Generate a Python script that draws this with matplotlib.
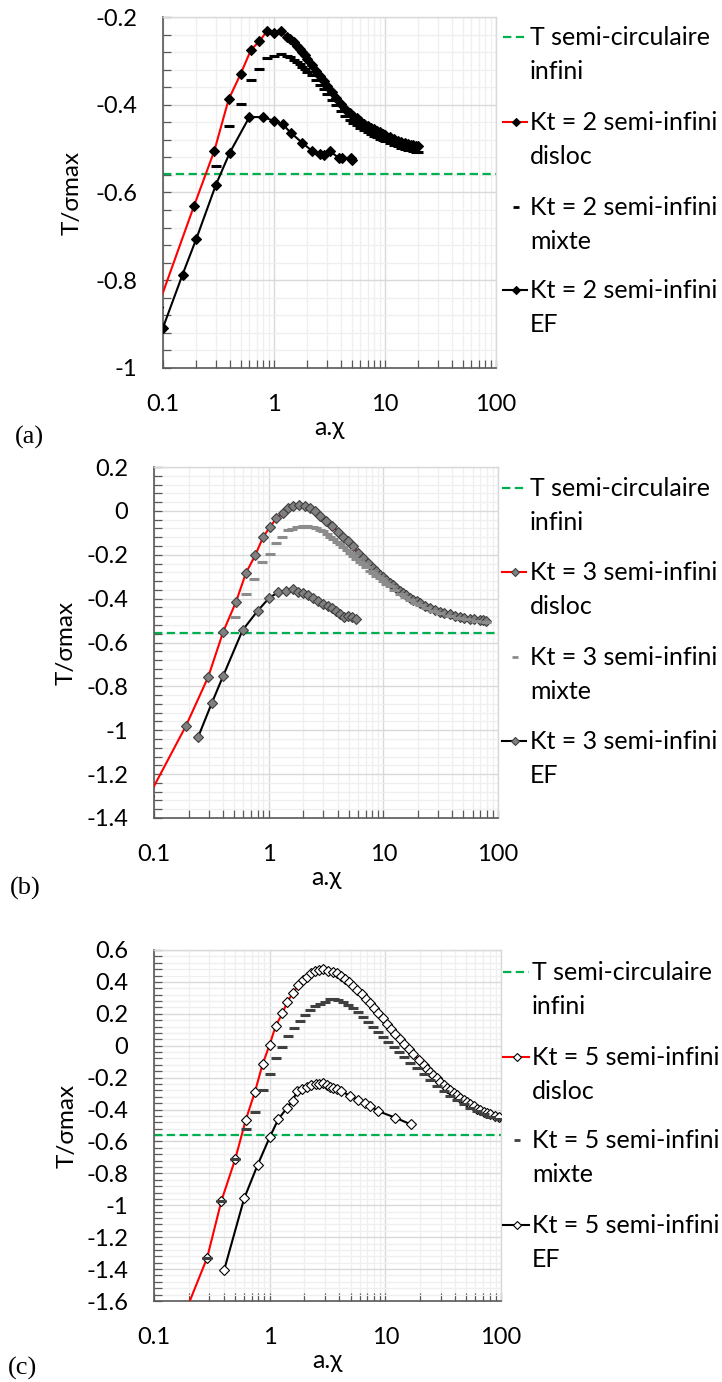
import matplotlib
matplotlib.use("Agg")
import matplotlib.pyplot as plt
from matplotlib.lines import Line2D
from matplotlib.ticker import FixedLocator, FuncFormatter, LogLocator, MultipleLocator

plt.rcParams['font.family'] = ['Lato', 'DejaVu Sans']
plt.rcParams['axes.unicode_minus'] = False
plt.rcParams['lines.scale_dashes'] = False

# T semi-circulaire infini (horizontal reference)
t_inf = -0.557

# ---- (a) Kt = 2 ----
a_dis_x = [0.09, 0.19, 0.29, 0.39, 0.5, 0.62, 0.74, 0.86, 1.0, 1.16,
           1.3, 1.4, 1.5, 1.6, 1.7, 1.8, 1.9, 2.0, 2.2, 2.4, 2.6, 2.8, 3.0,
           3.3, 3.6, 4.0, 4.4, 4.8, 5.2, 5.6, 6.0, 6.5, 7.0, 7.5, 8.0, 8.5,
           9.0, 9.5, 10, 11, 12, 13, 14, 15, 16, 17, 18, 19, 20]
a_dis_y = [-0.86, -0.631, -0.505, -0.388, -0.330, -0.275, -0.255, -0.233, -0.236, -0.233,
           -0.246, -0.251, -0.258, -0.265, -0.272, -0.279, -0.287, -0.295, -0.310, -0.323,
           -0.335, -0.346, -0.357, -0.371, -0.384, -0.398, -0.409, -0.418, -0.425, -0.431,
           -0.437, -0.443, -0.448, -0.452, -0.456, -0.459, -0.463, -0.466, -0.469, -0.474,
           -0.478, -0.482, -0.485, -0.487, -0.489, -0.491, -0.492, -0.494, -0.495]
a_mix_x = [0.3, 0.39, 0.5, 0.62, 0.73, 0.86, 1.0, 1.15, 1.3, 1.4, 1.5, 1.6, 1.7, 1.8,
           1.9, 2.0, 2.2, 2.4, 2.6, 2.8, 3.0, 3.3, 3.6, 4.0, 4.4, 4.8, 5.2, 5.6, 6.0,
           6.5, 7.0, 7.5, 8.0, 8.5, 9.0, 9.5, 10, 11, 12, 13, 14, 15, 16, 17, 18, 19, 20]
a_mix_y = [-0.540, -0.449, -0.398, -0.344, -0.319, -0.294, -0.290, -0.284, -0.288, -0.292,
           -0.297, -0.302, -0.308, -0.313, -0.319, -0.325, -0.333, -0.344, -0.355, -0.365,
           -0.375, -0.389, -0.401, -0.414, -0.425, -0.434, -0.441, -0.447, -0.452, -0.458,
           -0.463, -0.467, -0.471, -0.474, -0.477, -0.480, -0.483, -0.488, -0.492, -0.495,
           -0.498, -0.500, -0.502, -0.504, -0.506, -0.507, -0.508]
a_ef_x = [0.1, 0.15, 0.2, 0.3, 0.4, 0.6, 0.8, 1.0, 1.2, 1.42, 1.8, 2.22, 2.59, 2.83,
          3.21, 3.86, 4.11, 4.92, 5.02]
a_ef_y = [-0.908, -0.787, -0.705, -0.582, -0.509, -0.428, -0.428, -0.437, -0.445, -0.464,
          -0.487, -0.506, -0.513, -0.515, -0.506, -0.522, -0.522, -0.521, -0.527]

# ---- (b) Kt = 3 ----
b_dis_x = [0.09, 0.19, 0.297, 0.402, 0.518, 0.633, 0.764, 0.897, 1.025, 1.17,
           1.34, 1.48, 1.64, 1.85, 2.07, 2.29, 2.56, 2.83, 3.19, 3.6,
           4.04, 4.46, 4.93, 5.46, 6.03, 6.67, 7.37, 8.15, 8.7, 9.31,
           10.0, 10.6, 11.4, 12.2, 13.0, 13.9, 14.9, 15.9, 17.0, 18.2,
           19.5, 20.8, 23.0, 25.4, 28.0, 31.0, 34.0, 37.9, 42.0, 46.4,
           51.0, 56.6, 62.0, 69.3, 74.0, 79.2]
b_dis_y = [-1.30, -0.980, -0.757, -0.550, -0.416, -0.284, -0.202, -0.118, -0.074, -0.033,
           -0.010, 0.013, 0.020, 0.027, 0.020, 0.013, -0.002, -0.022, -0.044, -0.068,
           -0.095, -0.117, -0.139, -0.162, -0.190, -0.216, -0.238, -0.261, -0.276, -0.292,
           -0.303, -0.314, -0.327, -0.340, -0.352, -0.365, -0.376, -0.385, -0.395, -0.404,
           -0.412, -0.420, -0.432, -0.442, -0.451, -0.459, -0.466, -0.472, -0.478, -0.483,
           -0.487, -0.491, -0.494, -0.497, -0.499, -0.500]
b_mix_x = [0.508, 0.633, 0.749, 0.879, 1.025, 1.156, 1.32, 1.48, 1.6, 1.75,
           1.9, 2.0, 2.14, 2.3, 2.45, 2.61, 2.8, 2.99, 3.2, 3.42,
           3.65, 3.91, 4.2, 4.46, 4.8, 5.1, 5.45, 5.83, 6.2, 6.67,
           7.1, 7.62, 8.1, 8.71, 9.3, 9.96, 10.6, 11.4, 12.5, 13.9,
           15.3, 17.0, 18.8, 20.8, 23.5, 27.2, 31.0, 37.9, 45.0, 53.0,
           64.0, 79.2]
b_mix_y = [-0.486, -0.378, -0.311, -0.235, -0.196, -0.147, -0.121, -0.089, -0.082, -0.074,
           -0.072, -0.071, -0.071, -0.072, -0.075, -0.078, -0.085, -0.094, -0.105, -0.117,
           -0.129, -0.142, -0.153, -0.165, -0.180, -0.193, -0.206, -0.219, -0.231, -0.244,
           -0.257, -0.272, -0.283, -0.295, -0.307, -0.318, -0.332, -0.344, -0.360, -0.378,
           -0.392, -0.405, -0.418, -0.430, -0.443, -0.456, -0.466, -0.478, -0.488, -0.495,
           -0.501, -0.505]
b_ef_x = [0.243, 0.318, 0.402, 0.592, 0.80, 1.01, 1.21, 1.41, 1.62, 1.81, 2.0, 2.21,
          2.45, 2.70, 2.99, 3.30, 3.60, 3.90, 4.23, 4.53, 4.93, 5.28, 5.83]
b_ef_y = [-1.030, -0.878, -0.751, -0.544, -0.456, -0.397, -0.371, -0.363, -0.356, -0.368,
          -0.375, -0.383, -0.398, -0.409, -0.424, -0.432, -0.441, -0.456, -0.470, -0.482,
          -0.477, -0.486, -0.493]

# ---- (c) Kt = 5 ----
c_dis_x = [0.18, 0.288, 0.383, 0.503, 0.622, 0.745, 0.868, 1.0, 1.13, 1.29,
           1.42, 1.6, 1.77, 1.93, 2.09, 2.26, 2.47, 2.69, 2.91, 3.22,
           3.51, 3.8, 4.11, 4.49, 4.89, 5.3, 5.74, 6.25, 6.82, 7.38,
           8.0, 8.72, 9.51, 10.3, 11.2, 12.2, 13.3, 14.4, 15.9, 17.5,
           19.4, 21.4, 23.0, 24.4, 26.0, 27.9, 29.8, 31.9, 34.0, 36.4,
           39.0, 41.6, 44.4, 47.5, 50.8, 54.3, 58.0, 62.0, 66.3, 70.8,
           75.5, 80.9, 88.0, 95.5]
c_dis_y = [-1.698, -1.329, -0.971, -0.712, -0.464, -0.290, -0.117, 0.007, 0.126, 0.203,
           0.276, 0.333, 0.381, 0.412, 0.433, 0.454, 0.466, 0.475, 0.479, 0.470,
           0.464, 0.454, 0.437, 0.418, 0.397, 0.374, 0.349, 0.322, 0.295, 0.266,
           0.234, 0.203, 0.172, 0.136, 0.105, 0.073, 0.040, 0.009, -0.023, -0.054,
           -0.090, -0.121, -0.143, -0.163, -0.184, -0.204, -0.225, -0.246, -0.262, -0.278,
           -0.294, -0.309, -0.325, -0.340, -0.353, -0.365, -0.380, -0.394, -0.405, -0.415,
           -0.423, -0.431, -0.440, -0.448]
c_mix_x = [0.288, 0.383, 0.503, 0.622, 0.745, 0.868, 1.0, 1.13, 1.29, 1.45, 1.62, 1.83, 2.02,
           2.23, 2.47, 2.72, 3.01, 3.32, 3.6, 3.93, 4.34, 4.79, 5.3,
           5.85, 6.47, 7.14, 7.89, 8.72, 9.64, 10.6, 11.8, 13.0, 14.4,
           16.4, 18.7, 21.4, 24.4, 27.9, 31.9, 36.4, 41.6, 47.5, 54.3,
           62.0, 70.8, 80.9, 95.5]
c_mix_y = [-1.329, -0.971, -0.712, -0.524, -0.415, -0.278, -0.179, -0.075, -0.006, 0.063, 0.113, 0.155, 0.193,
           0.224, 0.249, 0.262, 0.276, 0.291, 0.293, 0.287, 0.272, 0.255, 0.234,
           0.209, 0.182, 0.151, 0.119, 0.088, 0.057, 0.025, -0.006, -0.037, -0.069,
           -0.106, -0.142, -0.179, -0.215, -0.250, -0.282, -0.313, -0.340, -0.365, -0.388,
           -0.409, -0.428, -0.448, -0.462]
c_ef_x = [0.404, 0.602, 0.786, 1.0, 1.187, 1.40, 1.58, 1.73, 1.89, 2.09, 2.28, 2.50, 2.69,
          2.91, 3.11, 3.33, 3.55, 3.80, 4.14, 4.96, 5.85, 6.68, 7.38, 8.61, 12.2, 16.6]
c_ef_y = [-1.406, -0.957, -0.748, -0.574, -0.461, -0.393, -0.344, -0.284, -0.273, -0.257,
          -0.246, -0.240, -0.242, -0.232, -0.246, -0.257, -0.263, -0.273, -0.284, -0.315,
          -0.340, -0.361, -0.378, -0.409, -0.451, -0.493]

x_ticks = [0.1, 1, 10, 100]

W, H = 722, 1382
GREEN = '#00b050'
RED = '#ff0000'


def fx(px):
    return px / W


def fy(py):
    return 1 - py / H


panels = [
    dict(tag='(a)', kt='2', box=(163, 17, 496, 368), ylim=(-1.0, -0.2),
         dis=(a_dis_x, a_dis_y), mix=(a_mix_x, a_mix_y), ef=(a_ef_x, a_ef_y),
         face='black', edge='black', mixcol='black',
         leg_y=[37, 122, 207, 290], hx=(503, 527), tx=530,
         ylab=-0.240, tag_xy=(15, 437)),
    dict(tag='(b)', kt='3', box=(154, 467, 498, 818), ylim=(-1.4, 0.2),
         dis=(b_dis_x, b_dis_y), mix=(b_mix_x, b_mix_y), ef=(b_ef_x, b_ef_y),
         face='#808080', edge='#3f3f3f', mixcol='#8c8c8c',
         leg_y=[488, 572, 657, 741], hx=(502, 526), tx=530,
         ylab=-0.224, tag_xy=(10, 888)),
    dict(tag='(c)', kt='5', box=(154, 950, 501, 1301), ylim=(-1.6, 0.6),
         dis=(c_dis_x, c_dis_y), mix=(c_mix_x, c_mix_y), ef=(c_ef_x, c_ef_y),
         face='white', edge='black', mixcol='#404040',
         leg_y=[972, 1057, 1140, 1225], hx=(503, 529), tx=532,
         ylab=-0.219, tag_xy=(8, 1368)),
]

fig = plt.figure(figsize=(W / 100, H / 100), dpi=100)

for p in panels:
    l, t, r, b = p['box']
    ax = fig.add_axes([fx(l), fy(b), (r - l) / W, (b - t) / H])
    ax.set_xscale('log')
    ax.set_xlim(0.1, 100)
    ax.set_ylim(*p['ylim'])

    mk = dict(marker='D', ms=4.8, mfc=p['face'], mec=p['edge'], mew=0.8)
    ax.axhline(t_inf, color=GREEN, lw=1.6, dashes=(6, 3.2), zorder=2)
    ax.plot(*p['dis'], color=RED, lw=1.5, zorder=3, **mk)
    ax.plot(*p['mix'], ls='none', marker='_', ms=7, mew=2.2, color=p['mixcol'], zorder=4)
    ax.plot(*p['ef'], color='black', lw=1.5, zorder=5, **mk)

    # axes look (Excel style)
    ax.xaxis.set_major_locator(FixedLocator(x_ticks))
    ax.xaxis.set_minor_locator(LogLocator(base=10, subs=range(2, 10)))
    ax.xaxis.set_major_formatter(FuncFormatter(lambda v, _: '{:g}'.format(v)))
    ax.xaxis.set_minor_formatter(FuncFormatter(lambda v, _: ''))
    ax.yaxis.set_major_locator(MultipleLocator(0.2))
    ax.yaxis.set_minor_locator(MultipleLocator(0.04))
    ax.yaxis.set_major_formatter(FuncFormatter(lambda v, _: '{:g}'.format(round(v, 2))))
    ax.grid(which='major', color='#d9d9d9', lw=1.0)
    ax.grid(which='minor', color='#efefef', lw=0.9)
    ax.set_axisbelow(True)
    ax.tick_params(which='both', direction='in', length=5.5, width=0.9, color='#595959',
                   top=False, right=False)
    ax.tick_params(axis='both', which='major', labelsize=17, pad=18.5, labelcolor='black')
    for s in ('left', 'bottom'):
        ax.spines[s].set_color('#595959')
        ax.spines[s].set_linewidth(1.2)
    for s in ('top', 'right'):
        ax.spines[s].set_color('#d9d9d9')
        ax.spines[s].set_linewidth(1.0)

    ax.set_ylabel('T/σmax', fontsize=17.5)
    ax.yaxis.set_label_coords(p['ylab'], 0.5)
    ax.set_xlabel('a.χ', fontsize=18)
    ax.xaxis.set_label_coords(0.5, -0.19)
    ax.xaxis.label.set_verticalalignment('baseline')

    # legend, drawn entry by entry so the handle sits on the first text line
    kt = p['kt']
    labels = [('T semi-circulaire', 'infini'),
              ('Kt = %s semi-infini' % kt, 'disloc'),
              ('Kt = %s semi-infini' % kt, 'mixte'),
              ('Kt = %s semi-infini' % kt, 'EF')]
    h0, h1 = p['hx']
    hm = (h0 + h1) / 2 + 0.5
    for i, (ly, (line1, line2)) in enumerate(zip(p['leg_y'], labels)):
        yy = [fy(ly), fy(ly)]
        if i == 0:
            fig.add_artist(Line2D([fx(h0), fx(h1)], yy, color=GREEN, lw=1.6, dashes=(6, 3.2)))
        elif i == 2:
            fig.add_artist(Line2D([fx(hm)], [fy(ly)], ls='none', marker='_', ms=4.5,
                                  mew=2.0, color=p['mixcol']))
        else:
            col = RED if i == 1 else 'black'
            fig.add_artist(Line2D([fx(h0), fx(h1)], yy, color=col, lw=1.5))
            fig.add_artist(Line2D([fx(hm)], [fy(ly)], ls='none', marker='D', ms=3.6,
                                  mfc=p['face'], mec=p['edge'], mew=0.8))
        fig.text(fx(p['tx']), fy(ly + 8), line1, fontsize=18, va='baseline', ha='left')
        fig.text(fx(p['tx']), fy(ly + 42), line2, fontsize=18, va='baseline', ha='left')

    fig.text(fx(p['tag_xy'][0]), fy(p['tag_xy'][1]), p['tag'], family='Liberation Serif',
             fontsize=19, va='center', ha='left')

fig.savefig('out.png', dpi=100)
